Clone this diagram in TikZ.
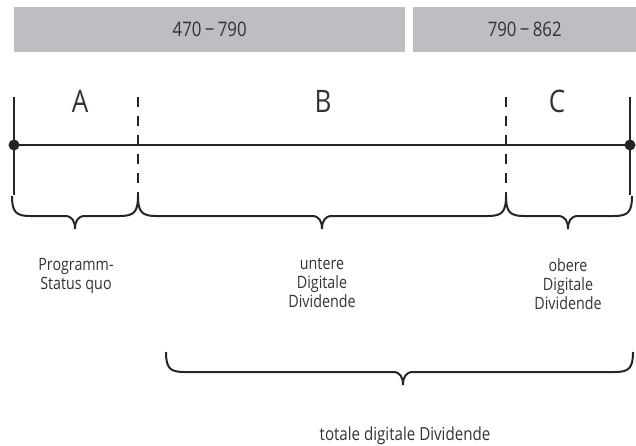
\documentclass[tikz,border=0pt]{standalone}
\usepackage{fontspec}
\setmainfont[FakeStretch=0.84]{Open Sans}
\definecolor{boxgray}{HTML}{BDBEC2}
\definecolor{ink}{HTML}{262626}
\definecolor{txt}{HTML}{333333}
\begin{document}
\begin{tikzpicture}[x=1pt,y=-1pt,
  band/.style={fill=boxgray,draw=none,minimum height=45pt,inner sep=0pt},
  bandtext/.style={text=txt,font=\fontsize{20}{24}\selectfont},
  letter/.style={text=txt,font=\fontsize{31}{34}\selectfont},
  lbl/.style={text=txt,font=\fontsize{17}{19}\selectfont,align=center,anchor=north},
  axis/.style={draw=ink,line width=2.3pt},
  dashline/.style={draw=ink,line width=2.3pt,dash pattern=on 10pt off 9pt},
  bracestyle/.style={draw=ink,line width=2pt},
  dot/.style={circle,fill=ink,inner sep=0pt,minimum size=11pt}]
\useasboundingbox (0,0) rectangle (636,446);
% bands
\node[band,minimum width=391pt,anchor=north west] (b1) at (14,7) {};
\node[band,minimum width=223pt,anchor=north west] (b2) at (413,7) {};
\node[bandtext] (t1) at (b1.center) {470\,−\,790};
\node[bandtext] (t2) at (b2.center) {790\,−\,862};
% axis
\node[dot] (l) at (14,145) {};
\node[dot] (r) at (630,145) {};
\draw[axis] (l.center) -- (r.center);
\coordinate (lt) at (14,97); \coordinate (lb) at (14,195);
\coordinate (rt) at (630,97); \coordinate (rb) at (630,195);
\draw[axis] (lt) -- (lb);
\draw[axis] (rt) -- (rb);
\coordinate (d1t) at (138,97); \coordinate (d1b) at (138,198);
\coordinate (d2t) at (506,97); \coordinate (d2b) at (506,198);
\draw[dashline] (d1t) -- (d1b);
\draw[dashline] (d2t) -- (d2b);
% letters
\node[letter] (A) at (80,101) {A};
\node[letter] (B) at (323,101) {B};
\node[letter] (C) at (557,101) {C};
% braces
\newcommand{\mybrace}[4]{%
  \draw[bracestyle] (#1,#4) .. controls (#1,#4+16) and (#1+4,#4+20) .. (#1+18,#4+20)
    -- (#3-10,#4+20) .. controls (#3-3,#4+20) and (#3,#4+25) .. (#3,#4+33)
    .. controls (#3,#4+25) and (#3+3,#4+20) .. (#3+10,#4+20)
    -- (#2-18,#4+20) .. controls (#2-4,#4+20) and (#2,#4+16) .. (#2,#4);}
\mybrace{12}{138}{75}{196}
\mybrace{138}{506}{322}{196}
\mybrace{506}{632}{568}{196}
\mybrace{166}{633}{403}{352}
% labels
\node[lbl] (pa) at (76,255) {Programm-\\Status quo};
\node[lbl] (pb) at (322,255) {untere\\Digitale\\Dividende};
\node[lbl] (pc) at (568,255) {obere\\Digitale\\Dividende};
\node[lbl,font=\fontsize{18}{21}\selectfont] (pt) at (405,423) {totale digitale Dividende};
\end{tikzpicture}
\end{document}
